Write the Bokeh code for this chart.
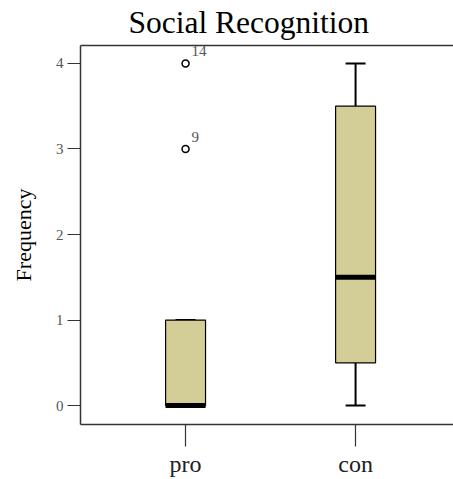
from bokeh.plotting import figure
from bokeh.models import Range1d, FixedTicker, LinearAxis, ColumnDataSource, LabelSet
from bokeh.core.properties import value
from bokeh.embed import file_html
from bokeh.resources import INLINE

# ---- data ----
categories = ["pro", "con"]
q1 = [0.0, 0.5]
medians = [0.0, 1.5]
q3 = [1.0, 3.5]
whisker_low = [0.0, 0.0]
whisker_high = [1.0, 4.0]
outlier_category = ["pro", "pro"]
outlier_values = [3.0, 4.0]
outlier_ids = ["9", "14"]
y_ticks = [0, 1, 2, 3, 4]

FONT = "Liberation Serif"
BOX_FILL = "#D3CE97"
AXIS_COLOR = "#333333"

xpos = [i + 1 for i in range(len(categories))]
ox = [categories.index(c) + 1 for c in outlier_category]

p = figure(width=453, height=479, output_backend="svg", toolbar_location=None,
           x_range=Range1d(0.382, 2.576), y_range=Range1d(-0.2216, 4.21),
           min_border_left=80, min_border_top=45, min_border_bottom=54,
           min_border_right=0, x_axis_type=None, y_axis_type=None,
           title="Social Recognition")
p.outline_line_color = None
p.background_fill_color = "white"
p.border_fill_color = "white"

p.title.text_font = FONT
p.title.text_font_size = "31.5px"
p.title.text_font_style = "normal"
p.title.text_color = "black"
p.title.align = "left"
p.title.offset = 48
p.title.standoff = 8
p.title.vertical_align = "top"

src = ColumnDataSource(dict(x=xpos, q1=q1, med=medians, q3=q3,
                            lo=whisker_low, hi=whisker_high))

# whiskers
p.segment(x0="x", y0="q3", x1="x", y1="hi", source=src, line_color="black", line_width=2)
p.segment(x0="x", y0="q1", x1="x", y1="lo", source=src, line_color="black", line_width=2)
p.scatter(x="x", y="hi", source=src, marker="dash", size=20, line_color="black", line_width=2)
p.scatter(x="x", y="lo", source=src, marker="dash", size=20, line_color="black", line_width=2)
# boxes
p.vbar(x="x", width=0.235, bottom="q1", top="q3", source=src,
       fill_color=BOX_FILL, line_color="black", line_width=1.2)
# medians
p.scatter(x="x", y="med", source=src, marker="dash", size=40, line_color="black", line_width=5)

# outliers
osrc = ColumnDataSource(dict(x=ox, y=outlier_values, id=outlier_ids))
p.scatter(x="x", y="y", source=osrc, marker="circle", size=7,
          fill_color="white", line_color="black", line_width=1.5)
p.add_layout(LabelSet(x="x", y="y", text="id", source=osrc, x_offset=6, y_offset=7,
                      text_font=value(FONT), text_font_size=value("15px"),
                      text_color="#555555", text_baseline="bottom"))

# axes
left = LinearAxis(ticker=FixedTicker(ticks=y_ticks),
                  axis_line_color=AXIS_COLOR, axis_line_width=1.5,
                  major_tick_line_color=AXIS_COLOR, major_tick_line_width=1.2,
                  major_tick_out=13, major_tick_in=0,
                  minor_tick_line_color=None,
                  major_label_text_font=FONT, major_label_text_font_size="15px",
                  major_label_text_color="#555555", major_label_standoff=4,
                  axis_label="Frequency", axis_label_text_font=FONT,
                  axis_label_text_font_size="22px", axis_label_text_font_style="normal",
                  axis_label_text_color="black", axis_label_standoff=17)
p.add_layout(left, "left")

bottom = LinearAxis(ticker=FixedTicker(ticks=xpos),
                    major_label_overrides={x: c for x, c in zip(xpos, categories)},
                    axis_line_color=AXIS_COLOR, axis_line_width=1.5,
                    major_tick_line_color=AXIS_COLOR, major_tick_line_width=1.2,
                    major_tick_out=22, major_tick_in=0,
                    minor_tick_line_color=None,
                    major_label_text_font=FONT, major_label_text_font_size="24px",
                    major_label_text_color="#222222", major_label_standoff=4)
p.add_layout(bottom, "below")

# top frame line (no ticks)
top = LinearAxis(ticker=FixedTicker(ticks=[]),
                 axis_line_color=AXIS_COLOR, axis_line_width=1.5,
                 major_tick_out=0, major_tick_in=0, minor_tick_out=0, minor_tick_in=0,
                 major_tick_line_color=None, minor_tick_line_color=None,
                 major_label_text_font_size="0px", major_label_standoff=0)
p.add_layout(top, "above")

p.xgrid.visible = False
p.ygrid.visible = False

open("out.html", "w").write(file_html(p, INLINE))
